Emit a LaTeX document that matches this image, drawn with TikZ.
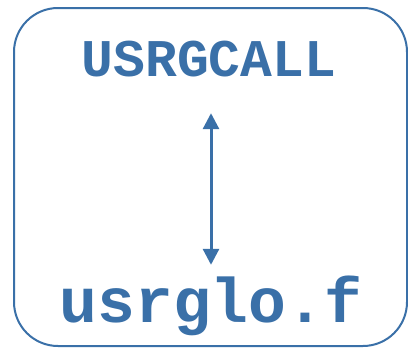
\documentclass[tikz,border=0pt]{standalone}
\usepackage{fontspec}
\setmonofont{Liberation Mono}
\usetikzlibrary{arrows.meta}

\definecolor{fileblue}{RGB}{58,112,168}

\begin{document}
\begin{tikzpicture}[
x=1pt, y=-1pt,
frame/.style={
draw=fileblue,
line width=2pt,
rounded corners=44pt,
},
label/.style={
text=fileblue,
font=\ttfamily\bfseries,
inner sep=0pt,
anchor=base,
},
link/.style={
draw=fileblue,
line width=3pt,
{Triangle[width=16pt,length=16pt]}-{Triangle[width=16pt,length=16pt]},
},
]
\useasboundingbox (0,0) rectangle (408,348);

\draw[frame] (14,8) rectangle (407,346);

\node[label, font=\fontsize{53}{53}\ttfamily\bfseries, text depth=0pt] (call) at (209,77) {USRGCALL};
\node[label, font=\fontsize{63}{63}\ttfamily\bfseries, text height=40pt] (file) at (211,322) {usrglo.f};

% two-way call between the driver and the file
\path[link, shorten <=36pt, shorten >=17pt] (call.south -| file.north) -- (file.north);

\end{tikzpicture}
\end{document}
